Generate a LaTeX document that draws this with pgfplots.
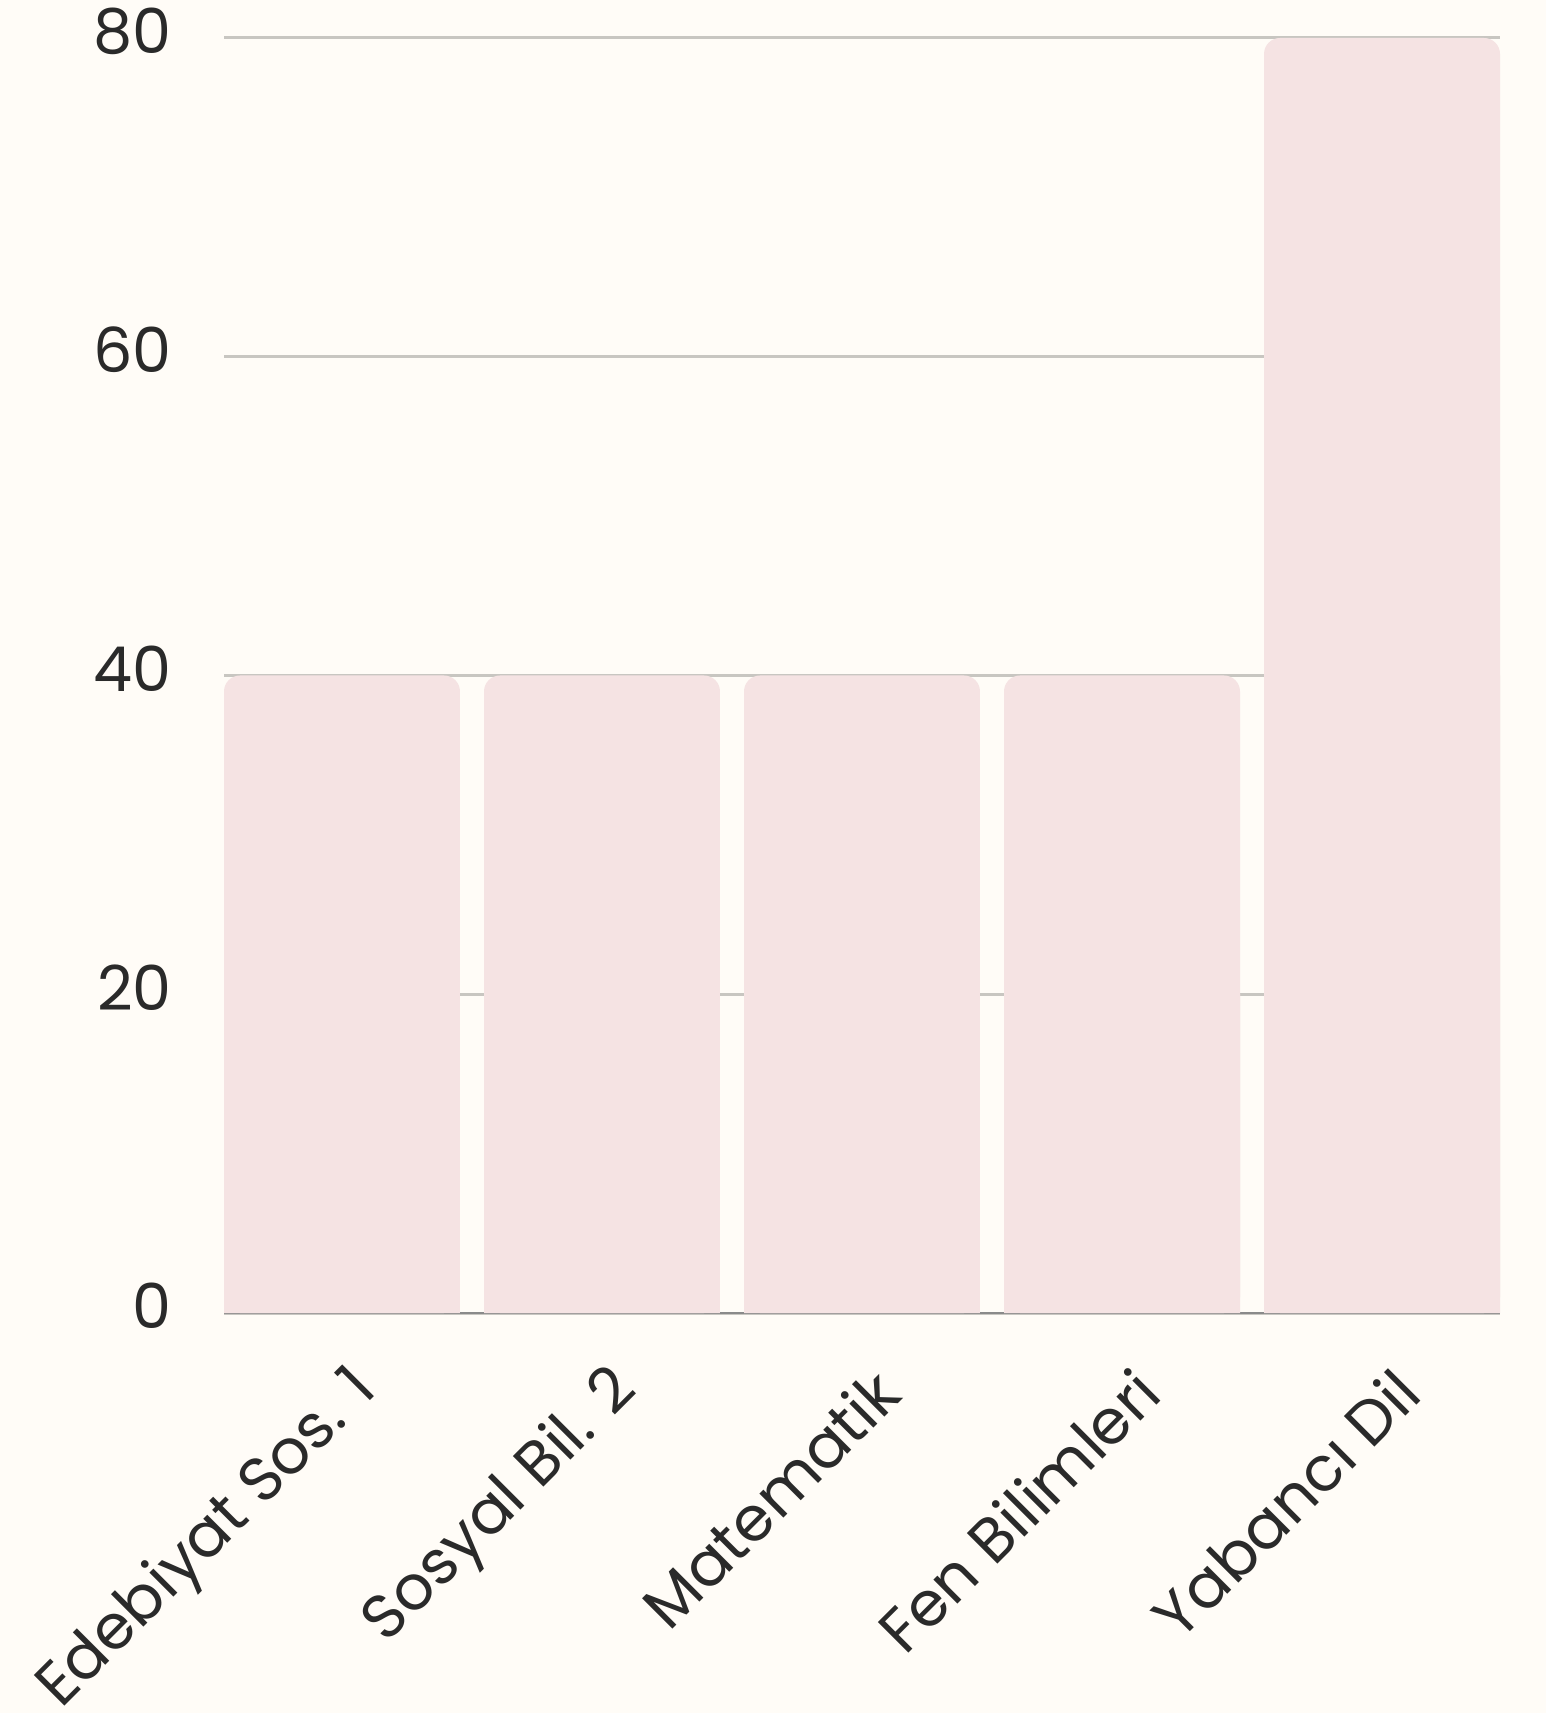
\documentclass[border=0pt]{standalone}
\usepackage{fontspec}
\setmainfont{Poppins}
\usepackage{pgfplots}
\pgfplotsset{compat=1.18}
\definecolor{bgc}{HTML}{FFFCF7}
\definecolor{barc}{HTML}{F5E3E3}
\definecolor{gridc}{HTML}{C8C6C1}
\definecolor{axc}{HTML}{8A8A8A}
\definecolor{txt}{HTML}{2A2A2A}
\pgfplotstableread{
x y
0 40
1 40
2 40
3 40
4 80
}\scores
\begin{document}
\begin{tikzpicture}
\fill[bgc] (0,0) rectangle (773pt,856.5pt);
\begin{axis}[
  at={(112pt,200pt)}, anchor=south west,
  scale only axis, width=638pt, height=637.5pt,
  xmin=-0.4538, xmax=4.4538, ymin=0, ymax=80,
  enlargelimits=false, clip=false,
  axis x line*=bottom, axis y line*=left,
  y axis line style={draw=none},
  x axis line style={draw=axc, line width=1pt},
  major tick length=0pt,
  ytick={0,20,40,60,80},
  ymajorgrids, grid style={draw=gridc, line width=1.5pt},
  xtick=data,
  xticklabels={Edebiyat Sos. 1, Sosyal Bil. 2, Matematik, Fen Bilimleri, Yabancı Dil},
  tick label style={font=\fontsize{31}{37}\selectfont, text=txt},
  /pgf/number format/assume math mode=true,
  yticklabel style={inner sep=0pt, anchor=east, xshift=-26pt, yshift=3.5pt},
  xticklabel style={inner sep=0pt, xshift=13pt, yshift=-34pt, rotate=45, anchor=east},
]
\addplot[ybar, bar width=0.9076, bar shift=0pt, fill=barc, draw=none, rounded corners=8pt] table[x=x,y=y] {\scores};
\addplot[ybar, bar width=0.9076, bar shift=0pt, fill=barc, draw=none, y filter/.expression={y/2}] table[x=x,y=y] {\scores};
\end{axis}
\pgfresetboundingbox
\path (0,0) rectangle (773pt,856.5pt);
\end{tikzpicture}
\end{document}
